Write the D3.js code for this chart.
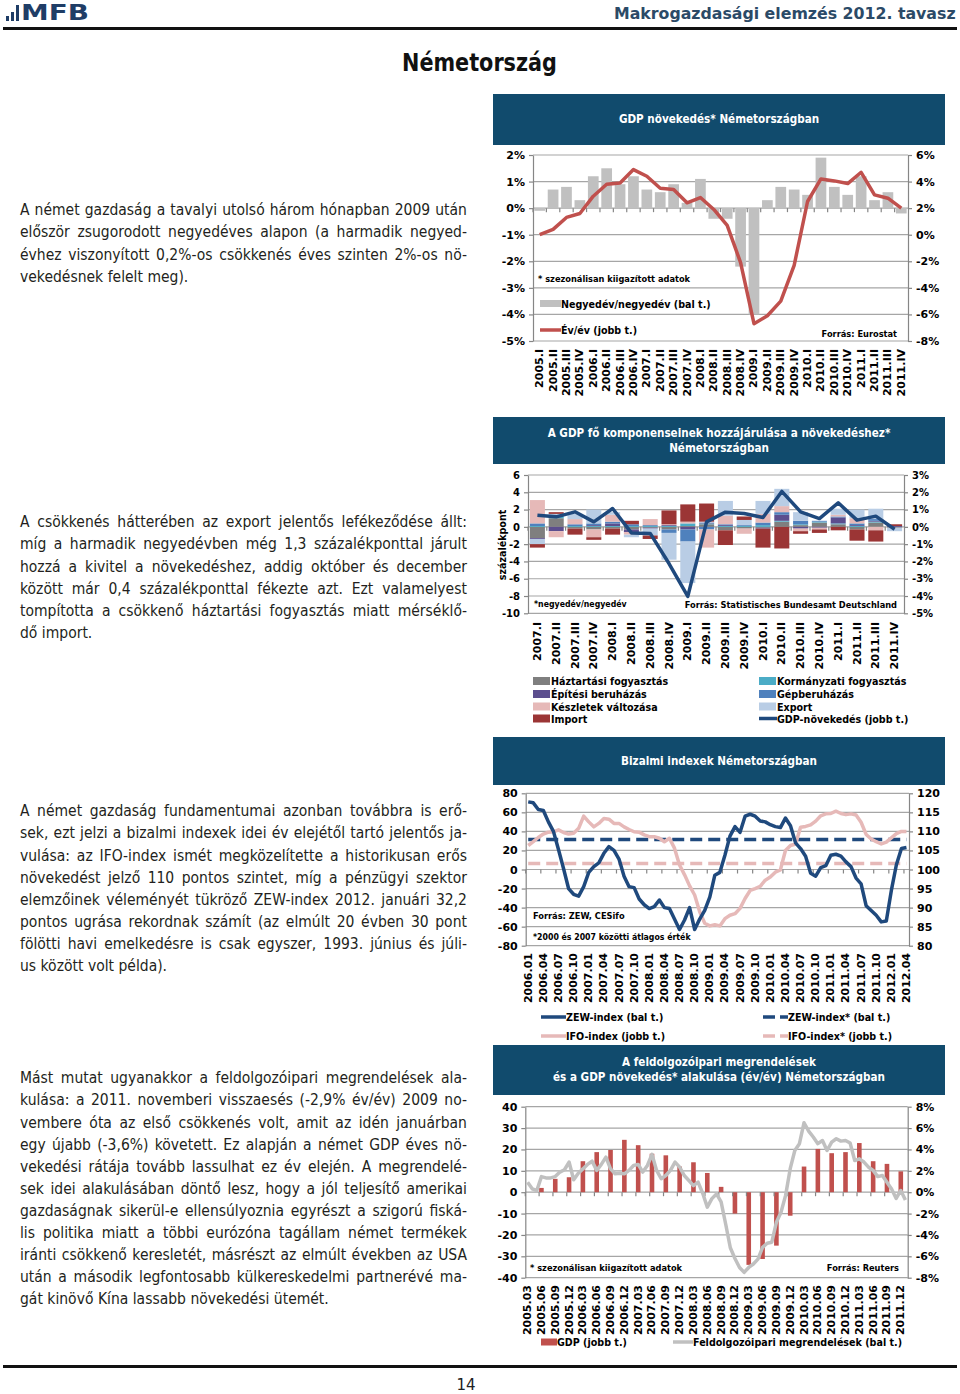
<!DOCTYPE html>
<html lang="hu">
<head>
<meta charset="utf-8">
<title>Németország</title>
<script src="https://cdn.jsdelivr.net/npm/d3@7"></script>
<style>
html,body{margin:0;padding:0;background:#fff;}
svg{display:block;}
</style>
</head>
<body>
<script>
// ================= DATA =================
// Chart 1 – GDP növekedés* Németországban
const c1Quarters = ["2005.I","2005.II","2005.III","2005.IV","2006.I","2006.II","2006.III","2006.IV","2007.I","2007.II","2007.III","2007.IV","2008.I","2008.II","2008.III","2008.IV","2009.I","2009.II","2009.III","2009.IV","2010.I","2010.II","2010.III","2010.IV","2011.I","2011.II","2011.III","2011.IV"];
const c1QoQ = [-0.1,0.7,0.8,0.3,1.2,1.5,0.9,1.2,0.7,0.6,0.9,0.2,1.1,-0.4,-0.4,-2.2,-4.0,0.3,0.8,0.7,0.5,1.9,0.8,0.5,1.2,0.3,0.6,-0.2];
const c1YoY = [0.0,0.4,1.3,1.6,2.9,3.8,3.9,4.9,4.4,3.5,3.4,2.4,2.8,1.9,0.7,-2.1,-6.7,-6.1,-5.0,-2.3,2.5,4.2,4.05,3.85,4.7,3.0,2.75,2.0];
const c1LeftTicks = [-5,-4,-3,-2,-1,0,1,2];
const c1RightTicks = [-8,-6,-4,-2,0,2,4,6];

// Chart 2 – A GDP fő komponenseinek hozzájárulása a növekedéshez*
const c2Quarters = ["2007.I","2007.II","2007.III","2007.IV","2008.I","2008.II","2008.III","2008.IV","2009.I","2009.II","2009.III","2009.IV","2010.I","2010.II","2010.III","2010.IV","2011.I","2011.II","2011.III","2011.IV"];
const c2Keys = ["Háztartási fogyasztás","Kormányzati fogyasztás","Építési beruházás","Gépberuházás","Készletek változása","Export","Import"];
const c2Haztartasi = [-1.3,1.0,-0.2,-0.3,-0.2,-0.3,-0.1,-0.3,0.1,0.3,-0.4,-0.2,-0.1,0.6,0.2,0.5,0.3,-0.3,0.5,-0.1];
const c2Kormanyzati = [0.1,0.2,0.1,0.1,0.1,0.1,0.1,0.1,0.3,0.1,0.1,0.1,0.2,0.1,0.1,0.1,0.1,0.1,0.1,0.0];
const c2Epitesi = [-0.1,-0.5,0.0,0.1,0.3,-0.3,-0.1,0.1,-0.3,0.1,0.1,0.0,-0.1,0.7,-0.2,-0.1,0.7,0.1,0.1,0.1];
const c2Gep = [0.3,0.1,0.2,0.2,0.2,0.2,0.1,-0.4,-1.4,-0.3,0.1,0.1,0.3,0.3,0.4,0.1,0.1,0.2,0.2,0.0];
const c2Keszlet = [2.7,-0.7,0.6,-0.9,0.8,-0.3,0.7,0.1,0.2,-2.1,1.0,-0.6,1.0,0.7,-0.3,-0.2,0.2,0.6,-0.4,0.0];
const c2Export = [-0.6,0.2,0.6,1.6,0.3,-0.3,-0.8,-3.1,-4.8,0.1,1.7,0.6,1.5,2.0,1.0,0.0,0.7,1.0,1.2,-0.4];
const c2Import = [-0.4,0.2,-0.7,-0.3,-0.7,0.4,-0.4,1.6,2.0,2.1,-1.7,0.4,-2.2,-2.5,-0.3,-0.4,-0.4,-1.3,-1.3,0.2];
const c2Gdp = [0.67,0.58,0.87,0.29,1.06,-0.35,-0.38,-2.12,-4.02,0.29,0.85,0.77,0.54,2.05,0.87,0.48,1.39,0.39,0.62,-0.14];
const c2LeftTicks = [-10,-8,-6,-4,-2,0,2,4,6];
const c2RightTicks = [-5,-4,-3,-2,-1,0,1,2,3];

// Chart 3 – Bizalmi indexek Németországban (havi, 2006.01–2012.04)
const c3TickLabels = ["2006.01","2006.04","2006.07","2006.10","2007.01","2007.04","2007.07","2007.10","2008.01","2008.04","2008.07","2008.10","2009.01","2009.04","2009.07","2009.10","2010.01","2010.04","2010.07","2010.10","2011.01","2011.04","2011.07","2011.10","2012.01","2012.04"];
const c3Zew = [71,70,63,62,50,40,21,1,-20,-26,-28,-18,
  -3,3,7,17,24,20,11,-7,-18,-19,-31,-37,
  -41,-39,-32,-40,-41,-52,-63,-53,-40,-63,-52,-43,
  -29,-6,-3,15,35,45,39,56,58,56,51,50,
  47,45,44,54,46,28,22,14,-4,-7,2,4,
  15,16,14,8,3,-9,-15,-38,-43,-48,-55,-54,
  -22,5,22,23];
const c3Ifo = [106.3,107.3,108.4,109.3,109.8,109.9,110.4,109.7,109.3,109.5,110.8,114.0,
  112.5,111.2,112.1,113.4,113.2,112.1,112.1,111.2,110.5,109.9,109.8,109.1,
  108.6,108.6,108.2,107.3,108.2,105.6,101.2,98.6,95.7,93.3,88.9,85.9,
  85.2,85.5,85.2,87.1,88.0,88.4,89.8,92.4,94.5,95.0,95.6,97.2,
  98.0,99.3,99.9,105.0,106.3,106.7,111.1,111.3,111.7,112.7,114.1,114.6,
  114.7,115.3,114.7,114.4,114.6,114.3,112.4,109.2,108.0,107.3,106.7,107.2,
  108.3,109.4,110.0,110.0];
const c3ZewAvg = 31.5;
const c3IfoAvg = 101.6;
const c3LeftTicks = [-80,-60,-40,-20,0,20,40,60,80];
const c3RightTicks = [80,85,90,95,100,105,110,115,120];

// Chart 4 – Feldolgozóipari megrendelések és GDP (év/év), havi 2005.03–2012.01
const c4TickLabels = ["2005.03","2005.06","2005.09","2005.12","2006.03","2006.06","2006.09","2006.12","2007.03","2007.06","2007.09","2007.12","2008.03","2008.06","2008.09","2008.12","2009.03","2009.06","2009.09","2009.12","2010.03","2010.06","2010.09","2010.12","2011.03","2011.06","2011.09","2011.12"];
const c4Gdp = [0.0,0.4,1.25,1.4,2.9,3.75,3.95,4.9,4.4,3.6,3.45,2.4,2.8,1.8,0.5,-2.0,-6.8,-6.25,-5.0,-2.2,2.4,4.05,3.65,3.75,4.6,2.9,2.65,1.95];
const c4Orders = [4.7,1.6,0.8,7.3,6.7,6.7,7.3,9.4,10.5,14.1,5.8,8.9,
  10.9,13.0,14.5,10.2,13.0,16.4,10.9,8.6,8.9,8.6,10.2,12.5,
  13.0,9.4,12.5,17.7,10.2,6.3,7.8,10.2,14.1,11.7,7.8,5.5,
  3.1,4.7,-0.5,-7.0,-3.0,-0.8,-4.5,-15.0,-26.0,-31.0,-35.2,-37.5,
  -35.2,-33.6,-31.3,-25.8,-23.9,-23.4,-14.1,-9.4,-1.5,11.0,19.5,22.7,
  32.5,28.6,25.8,22.7,24.2,19.5,23.4,25.0,23.9,24.2,23.0,14.8,
  15.6,14.1,11.7,10.2,7.3,7.8,4.7,1.5,-2.9,0.8,-3.6];
const c4LeftTicks = [-40,-30,-20,-10,0,10,20,30,40];
const c4RightTicks = [-8,-6,-4,-2,0,2,4,6,8];

// Texts
const para1 = ["A német gazdaság a tavalyi utolsó három hónapban 2009 után",
  "először zsugorodott negyedéves alapon (a harmadik negyed-",
  "évhez viszonyított 0,2%-os csökkenés éves szinten 2%-os nö-",
  "vekedésnek felelt meg)."];
const para2 = ["A csökkenés hátterében az export jelentős lefékeződése állt:",
  "míg a harmadik negyedévben még 1,3 százalékponttal járult",
  "hozzá a kivitel a növekedéshez, addig október és december",
  "között már 0,4 százalékponttal fékezte azt. Ezt valamelyest",
  "tompította a csökkenő háztartási fogyasztás miatt mérséklő-",
  "dő import."];
const para3 = ["A német gazdaság fundamentumai azonban továbbra is erő-",
  "sek, ezt jelzi a bizalmi indexek idei év elejétől tartó jelentős ja-",
  "vulása: az IFO-index ismét megközelítette a historikusan erős",
  "növekedést jelző 110 pontos szintet, míg a pénzügyi szektor",
  "elemzőinek véleményét tükröző ZEW-index 2012. januári 32,2",
  "pontos ugrása rekordnak számít (az elmúlt 20 évben 30 pont",
  "fölötti havi emelkedésre is csak egyszer, 1993. június és júli-",
  "us között volt példa)."];
const para4 = ["Mást mutat ugyanakkor a feldolgozóipari megrendelések ala-",
  "kulása: a 2011. novemberi visszaesés (-2,9% év/év) 2009 no-",
  "vembere óta az első csökkenés volt, amit az idén januárban",
  "egy újabb (-3,6%) követett. Ez alapján a német GDP éves nö-",
  "vekedési rátája tovább lassulhat ez év elején. A megrendelé-",
  "sek idei alakulásában döntő lesz, hogy a jól teljesítő amerikai",
  "gazdaságnak sikerül-e ellensúlyoznia egyrészt a szigorú fiská-",
  "lis politika miatt a többi eurózóna tagállam német termékek",
  "iránti csökkenő keresletét, másrészt az elmúlt években az USA",
  "után a második legfontosabb külkereskedelmi partnerévé ma-",
  "gát kinövő Kína lassabb növekedési ütemét."];

// categories (month lists)
const c3Months = [];
for (let y = 2006; y <= 2012; y++) for (let m = 1; m <= 12; m++) { if (y === 2012 && m > 4) break; c3Months.push(y + "." + String(m).padStart(2, "0")); }
const c4Months = [];
for (let y = 2005; y <= 2012; y++) for (let m = 1; m <= 12; m++) { if ((y === 2005 && m < 3) || (y === 2012 && m > 1)) continue; c4Months.push(y + "." + String(m).padStart(2, "0")); }

// ================= DRAWING =================
const W = 960, H = 1394;
const FONT = "DejaVu Sans";
const BOX = "#114b6d", GRID = "#a6a6a6", AXC = "#868686";
const SX = 0.87;
const svg = d3.select("body").append("svg").attr("width", W).attr("height", H).attr("viewBox", `0 0 ${W} ${H}`);
svg.append("rect").attr("width", W).attr("height", H).attr("fill", "#fff");

// text helper: horizontal condensing is done with a transform so the text box stays true
function txt(parent, x, y, s, o = {}) {
  const anchor = o.anchor || "start";
  const t = parent.append("text").attr("x", 0).attr("y", 0).text(s)
    .attr("font-family", FONT).attr("font-size", o.fs || 11)
    .attr("font-weight", o.fw || "bold").attr("fill", o.fill || "#000")
    .attr("text-anchor", anchor).attr("dominant-baseline", "central");
  const w0 = t.node().getComputedTextLength();
  const k = o.w ? o.w / w0 : (o.sx === undefined ? SX : o.sx);
  t.attr("transform", `translate(${x},${y})` + (o.rot ? ` rotate(${o.rot})` : "") + ` scale(${k},1)`);
  return t;
}
function grid(g, y, ticks, x0, x1) {
  g.append("g").selectAll("line").data(ticks).join("line")
    .attr("x1", x0).attr("x2", x1).attr("y1", d => y(d)).attr("y2", d => y(d))
    .attr("stroke", GRID).attr("stroke-width", 1.2);
}
function yAxis(g, scale, ticks, fmt, side, x, fs = 11) {
  const ax = (side === "left" ? d3.axisLeft(scale) : d3.axisRight(scale))
    .tickValues(ticks).tickFormat(fmt).tickSize(4).tickSizeOuter(0).tickPadding(4);
  const a = g.append("g").attr("transform", `translate(${x},0)`).call(ax);
  a.select(".domain").attr("stroke", AXC).attr("stroke-width", 1.2);
  a.selectAll(".tick line").attr("stroke", AXC).attr("stroke-width", 1.2);
  a.selectAll(".tick text").attr("font-family", FONT).attr("font-size", fs).attr("font-weight", "bold").attr("fill", "#000");
  return a;
}
function header(g, y, h, lines) {
  g.append("rect").attr("x", 493).attr("y", y).attr("width", 452).attr("height", h).attr("fill", BOX);
  const n = lines.length;
  lines.forEach((s, i) => txt(g, 719, y + h / 2 + (i - (n - 1) / 2) * 15, s, { fs: 12, fill: "#fff", anchor: "middle" }));
}
function xLabels(g, cats, cx, top) {
  g.append("g").selectAll("text").data(cats).join("text")
    .attr("x", d => cx(d)).attr("y", top)
    .attr("transform", d => `rotate(-90,${cx(d)},${top})`)
    .attr("text-anchor", "end").attr("dominant-baseline", "central")
    .attr("font-family", FONT).attr("font-size", 11).attr("font-weight", "bold").text(d => d);
}

// ---------- Page header ----------
const hdr = svg.append("g");
hdr.selectAll("rect.logo").data([[6, 16, 3, 5], [11, 12, 3, 9], [16, 5, 3, 16]]).join("rect")
  .attr("x", d => d[0]).attr("y", d => d[1]).attr("width", d => d[2]).attr("height", d => d[3]).attr("fill", "#1f3d66");
txt(hdr, 21, 13, "MFB", { fs: 21, fill: "#1f3d66", w: 68 });
txt(hdr, 614, 13, "Makrogazdasági elemzés 2012. tavasz", { fs: 16.5, fill: "#2b4a67", w: 342 });
hdr.append("rect").attr("x", 3).attr("y", 27).attr("width", 954).attr("height", 3).attr("fill", "#111");
txt(hdr, 402, 62, "Németország", { fs: 24, w: 155, fill: "#111" });

// ---------- Paragraphs (justified) ----------
const PX = 20, PW = 447, PS = 0.9, PFS = 15.5;
function paragraph(lines, y0, lh) {
  const meas = svg.append("text").attr("font-family", FONT).attr("font-size", PFS).attr("visibility", "hidden");
  const spaceW = (() => { meas.text("a a"); const a = meas.node().getComputedTextLength(); meas.text("aa"); return a - meas.node().getComputedTextLength(); })();
  lines.forEach((ln, i) => {
    const y = y0 + i * lh;
    const words = ln.split(" ");
    const ws = words.map(w => { meas.text(w); return meas.node().getComputedTextLength(); });
    const sumW = d3.sum(ws), n = words.length - 1;
    const last = i === lines.length - 1;
    let s = PS, gap = spaceW;
    if (!last) {
      gap = (PW / s - sumW) / n;
      if (gap < spaceW * 0.7) { s = PW / (sumW + n * spaceW * 0.7); gap = spaceW * 0.7; }
    }
    const t = svg.append("text").attr("transform", `translate(${PX},${y}) scale(${s},1)`)
      .attr("font-family", FONT).attr("font-size", PFS).attr("fill", "#231f20").attr("dominant-baseline", "central");
    let cx = 0;
    words.forEach((w, j) => { t.append("tspan").attr("x", cx).text(j < n ? w + " " : w); cx += ws[j] + gap; });
  });
  meas.remove();
}
paragraph(para1, 209, 22.1);
paragraph(para2, 521, 22.1);
paragraph(para3, 810, 22.1);
paragraph(para4, 1077, 22.1);

// ---------- Chart 1 ----------
{
  const g = svg.append("g");
  header(g, 94, 51, ["GDP növekedés* Németországban"]);
  const x = d3.scaleBand().domain(c1Quarters).range([533, 908]).paddingInner(0.2).paddingOuter(0.1);
  const cx = q => x(q) + x.bandwidth() / 2;
  const yL = d3.scaleLinear().domain([-5, 2]).range([341, 155]);
  const yR = d3.scaleLinear().domain([-8, 6]).range([341, 155]);
  grid(g, yL, c1LeftTicks, 533, 908);
  g.append("g").selectAll("rect").data(c1QoQ).join("rect")
    .attr("x", (d, i) => x(c1Quarters[i])).attr("width", x.bandwidth())
    .attr("y", d => yL(Math.max(0, d))).attr("height", d => Math.abs(yL(d) - yL(0))).attr("fill", "#c0c0c0");
  g.append("g").selectAll("line").data(c1Quarters).join("line")
    .attr("x1", q => x(q) - x.step() * x.paddingInner() / 2).attr("x2", q => x(q) - x.step() * x.paddingInner() / 2)
    .attr("y1", yL(0)).attr("y2", yL(0) + 4).attr("stroke", AXC).attr("stroke-width", 1.2);
  yAxis(g, yL, c1LeftTicks, d => d + "%", "left", 533);
  yAxis(g, yR, c1RightTicks, d => d + "%", "right", 908);
  g.append("path").datum(c1YoY)
    .attr("d", d3.line().x((d, i) => cx(c1Quarters[i])).y(d => yR(d)))
    .attr("fill", "none").attr("stroke", "#c0504d").attr("stroke-width", 3.5).attr("stroke-linejoin", "round");
  xLabels(g, c1Quarters, cx, 349);
  txt(g, 538, 279, "* szezonálisan kiigazított adatok", { fs: 9.5 });
  g.append("rect").attr("x", 540).attr("y", 300).attr("width", 21).attr("height", 7).attr("fill", "#c0c0c0");
  txt(g, 561, 304, "Negyedév/negyedév (bal t.)", { fs: 11 });
  g.append("line").attr("x1", 540).attr("x2", 561).attr("y1", 330).attr("y2", 330).attr("stroke", "#c0504d").attr("stroke-width", 3.5);
  txt(g, 561, 330, "Év/év (jobb t.)", { fs: 11 });
  txt(g, 897, 334, "Forrás: Eurostat", { fs: 9.5, anchor: "end" });
}

// ---------- Chart 2 ----------
{
  const g = svg.append("g");
  header(g, 417, 47, ["A GDP fő komponenseinek hozzájárulása a növekedéshez*", "Németországban"]);
  const x = d3.scaleBand().domain(c2Quarters).range([528, 904]).paddingInner(0.2).paddingOuter(0.1);
  const cx = q => x(q) + x.bandwidth() / 2;
  const yL = d3.scaleLinear().domain([-10, 6]).range([613.3, 475]);
  const yR = d3.scaleLinear().domain([-5, 3]).range([613.3, 475]);
  const colors = { "Háztartási fogyasztás": "#7f7f7f", "Kormányzati fogyasztás": "#4bacc6", "Építési beruházás": "#5c4e8e",
    "Gépberuházás": "#4f81bd", "Készletek változása": "#e6b9b8", "Export": "#b9cde5", "Import": "#9b3535" };
  const cols = [c2Haztartasi, c2Kormanyzati, c2Epitesi, c2Gep, c2Keszlet, c2Export, c2Import];
  const rows = c2Quarters.map((q, i) => { const r = { q }; c2Keys.forEach((k, j) => r[k] = cols[j][i]); return r; });
  const stacked = d3.stack().keys(c2Keys).offset(d3.stackOffsetDiverging)(rows);
  grid(g, yL, c2LeftTicks, 528, 904);
  g.append("g").selectAll("g").data(stacked).join("g").attr("fill", s => colors[s.key])
    .selectAll("rect").data(s => s).join("rect")
    .attr("x", d => x(d.data.q)).attr("width", x.bandwidth())
    .attr("y", d => yL(d[1])).attr("height", d => Math.max(0, yL(d[0]) - yL(d[1])));
  g.append("g").selectAll("line").data(c2Quarters).join("line")
    .attr("x1", q => x(q) - x.step() * x.paddingInner() / 2).attr("x2", q => x(q) - x.step() * x.paddingInner() / 2)
    .attr("y1", yL(0)).attr("y2", yL(0) + 4).attr("stroke", AXC).attr("stroke-width", 1.2);
  yAxis(g, yL, c2LeftTicks, d => d, "left", 528, 10);
  yAxis(g, yR, c2RightTicks, d => d + "%", "right", 904, 10);
  g.append("path").datum(c2Gdp)
    .attr("d", d3.line().x((d, i) => cx(c2Quarters[i])).y(d => yR(d)))
    .attr("fill", "none").attr("stroke", "#1f497d").attr("stroke-width", 3.5).attr("stroke-linejoin", "round");
  txt(g, 502, 545, "százalékpont", { fs: 11, anchor: "middle", rot: -90 });
  txt(g, 534, 604, "*negyedév/negyedév", { fs: 9 });
  txt(g, 897, 605, "Forrás: Statistisches Bundesamt Deutschland", { fs: 9.5, anchor: "end" });
  xLabels(g, c2Quarters, cx, 622);
  const leg = [["Háztartási fogyasztás", 533, 681], ["Építési beruházás", 533, 694], ["Készletek változása", 533, 706.5], ["Import", 533, 718.5],
    ["Kormányzati fogyasztás", 759, 681], ["Gépberuházás", 759, 694], ["Export", 759, 706.5]];
  leg.forEach(([k, lx, ly]) => {
    g.append("rect").attr("x", lx).attr("y", ly - 4).attr("width", 17).attr("height", 8).attr("fill", colors[k]);
    txt(g, lx + 18, ly, k, { fs: 11 });
  });
  g.append("line").attr("x1", 759).attr("x2", 777).attr("y1", 718.5).attr("y2", 718.5).attr("stroke", "#1f497d").attr("stroke-width", 3.5);
  txt(g, 777, 718.5, "GDP-növekedés (jobb t.)", { fs: 11 });
}

// ---------- Chart 3 ----------
{
  const g = svg.append("g");
  header(g, 737, 48, ["Bizalmi indexek Németországban"]);
  const x = d3.scaleBand().domain(c3Months).range([525.7, 909]);
  const cx = m => x(m) + x.bandwidth() / 2;
  const yL = d3.scaleLinear().domain([-80, 80]).range([945.7, 793.3]);
  const yR = d3.scaleLinear().domain([80, 120]).range([945.7, 793.3]);
  grid(g, yL, c3LeftTicks, 525.7, 909);
  g.append("g").selectAll("line").data(c3TickLabels).join("line")
    .attr("x1", m => x(m)).attr("x2", m => x(m)).attr("y1", yL(0)).attr("y2", yL(0) + 4).attr("stroke", AXC).attr("stroke-width", 1.2);
  yAxis(g, yL, c3LeftTicks, d => d, "left", 525.7);
  yAxis(g, yR, c3RightTicks, d => d, "right", 909);
  const xs = cx(c3Months[0]), xe = cx(c3Months[c3Months.length - 1]);
  g.append("line").attr("x1", xs).attr("x2", xe).attr("y1", yL(c3ZewAvg)).attr("y2", yL(c3ZewAvg))
    .attr("stroke", "#1f497d").attr("stroke-width", 3.5).attr("stroke-dasharray", "12,6");
  g.append("line").attr("x1", xs).attr("x2", xe).attr("y1", yR(c3IfoAvg)).attr("y2", yR(c3IfoAvg))
    .attr("stroke", "#e6b9b8").attr("stroke-width", 3.5).attr("stroke-dasharray", "12,6");
  g.append("path").datum(c3Ifo).attr("d", d3.line().x((d, i) => cx(c3Months[i])).y(d => yR(d)))
    .attr("fill", "none").attr("stroke", "#e6b9b8").attr("stroke-width", 3.5).attr("stroke-linejoin", "round");
  g.append("path").datum(c3Zew).attr("d", d3.line().x((d, i) => cx(c3Months[i])).y(d => yL(d)))
    .attr("fill", "none").attr("stroke", "#1f497d").attr("stroke-width", 3.5).attr("stroke-linejoin", "round");
  txt(g, 533, 916, "Forrás: ZEW, CESifo", { fs: 9.5 });
  txt(g, 533, 937, "*2000 és 2007 közötti átlagos érték", { fs: 9 });
  xLabels(g, c3TickLabels, cx, 953);
  const lg = [["ZEW-index (bal t.)", "#1f497d", null, 541, 1017], ["IFO-index (jobb t.)", "#e6b9b8", null, 541, 1036],
    ["ZEW-index* (bal t.)", "#1f497d", "12,5", 763, 1017], ["IFO-index* (jobb t.)", "#e6b9b8", "12,5", 763, 1036]];
  lg.forEach(([s, c, dash, lx, ly]) => {
    const l = g.append("line").attr("x1", lx).attr("x2", lx + 25).attr("y1", ly).attr("y2", ly).attr("stroke", c).attr("stroke-width", 3.5);
    if (dash) l.attr("stroke-dasharray", dash);
    txt(g, lx + 25, ly, s, { fs: 11 });
  });
}

// ---------- Chart 4 ----------
{
  const g = svg.append("g");
  header(g, 1045, 50, ["A feldolgozóipari megrendelések", "és a GDP növekedés* alakulása (év/év) Németországban"]);
  const x = d3.scaleBand().domain(c4Months).range([525.3, 907.7]);
  const cx = m => x(m) + x.bandwidth() / 2;
  const yL = d3.scaleLinear().domain([-40, 40]).range([1277.7, 1106.7]);
  const yR = d3.scaleLinear().domain([-8, 8]).range([1277.7, 1106.7]);
  grid(g, yL, c4LeftTicks, 525.3, 907.7);
  g.append("g").selectAll("rect").data(c4Gdp).join("rect")
    .attr("x", (d, i) => cx(c4TickLabels[i]) - 2.3).attr("width", 4.6)
    .attr("y", d => yR(Math.max(0, d))).attr("height", d => Math.abs(yR(d) - yR(0))).attr("fill", "#c0504d");
  g.append("g").selectAll("line").data(c4TickLabels).join("line")
    .attr("x1", m => x(m)).attr("x2", m => x(m)).attr("y1", yL(0)).attr("y2", yL(0) + 4).attr("stroke", AXC).attr("stroke-width", 1.2);
  yAxis(g, yL, c4LeftTicks, d => d, "left", 525.3);
  yAxis(g, yR, c4RightTicks, d => d + "%", "right", 907.7);
  g.append("path").datum(c4Orders).attr("d", d3.line().x((d, i) => cx(c4Months[i])).y(d => yL(d)))
    .attr("fill", "none").attr("stroke", "#c0c0c0").attr("stroke-width", 3.5).attr("stroke-linejoin", "round");
  txt(g, 530, 1268, "* szezonálisan kiigazított adatok", { fs: 9.5 });
  txt(g, 899, 1268, "Forrás: Reuters", { fs: 9.5, anchor: "end" });
  xLabels(g, c4TickLabels, cx, 1285);
  g.append("rect").attr("x", 541).attr("y", 1338.5).attr("width", 16).attr("height", 7).attr("fill", "#c0504d");
  txt(g, 557, 1342, "GDP (jobb t.)", { fs: 11 });
  g.append("line").attr("x1", 673).attr("x2", 693).attr("y1", 1342).attr("y2", 1342).attr("stroke", "#c0c0c0").attr("stroke-width", 3.5);
  txt(g, 693, 1342, "Feldolgozóipari megrendelések (bal t.)", { fs: 11 });
}

// ---------- Footer ----------
svg.append("rect").attr("x", 3).attr("y", 1365).attr("width", 954).attr("height", 3).attr("fill", "#111");
txt(svg, 466, 1385, "14", { fs: 15, fw: "normal", anchor: "middle", sx: 1, fill: "#222" });
</script>
</body>
</html>
